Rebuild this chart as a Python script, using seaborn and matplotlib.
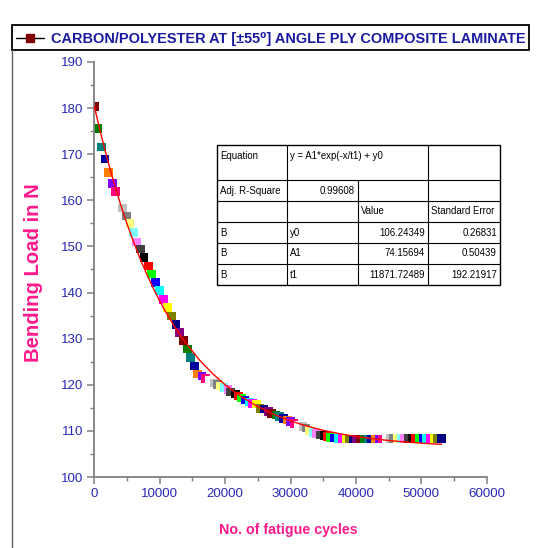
import numpy as np
import pandas as pd
import seaborn as sns
import matplotlib
matplotlib.use("Agg")
import matplotlib.pyplot as plt
from matplotlib.ticker import MultipleLocator
from matplotlib.patches import Rectangle

# ---------------- data ----------------
cycles = [0, 520, 1070, 1640, 2140, 2750, 3270, 3800, 4340, 4890,
          5460, 5960, 6480, 7090, 7600, 8260, 8780, 9390, 9940, 10550,
          11220, 11830, 12490, 13000, 13610, 14220, 14740, 15350, 15800, 16450,
          17000, 17600, 18300, 18800, 19330, 19830, 20440, 20860, 21560, 22080,
          22540, 23040, 23700, 24220, 24830, 25340, 25950, 26610, 27120, 27780,
          28290, 28900, 29510, 30030, 30540, 31200, 31900, 32400, 32880, 33490,
          34000, 34510, 35120, 35630, 36150, 36760, 37370, 37880, 38490, 39000,
          39600, 40120, 40730, 41290, 41850, 42410, 42970, 43530, 44090, 44650,
          45210, 45770, 46330, 46890, 47450, 48010, 48570, 49130, 49690, 50250,
          50810, 51370, 51940, 52500, 53060]
load = [180.4, 175.6, 171.6, 169.0, 166.0, 163.7, 161.9, 160.0, 158.3, 156.6,
        155.0, 153.0, 151.0, 149.4, 147.6, 145.8, 144.0, 142.2, 140.4, 138.5,
        136.8, 134.9, 133.1, 131.3, 129.6, 127.8, 125.9, 124.1, 122.3, 121.9,
        121.4, 121.0, 120.4, 120.1, 119.7, 119.4, 119.0, 118.4, 118.0, 117.6,
        117.1, 116.7, 116.3, 116.0, 115.8, 114.9, 114.7, 114.2, 113.8, 113.4,
        113.1, 112.7, 112.4, 112.0, 111.6, 111.3, 110.9, 110.6, 110.1, 109.7,
        109.4, 109.1, 109.0, 108.8, 108.6, 108.5, 108.4, 108.3, 108.2, 108.2,
        108.2, 108.2, 108.2, 108.2, 108.2, 108.2, 108.2, 108.2, 108.2, 108.3,
        108.3, 108.3, 108.3, 108.3, 108.3, 108.3, 108.3, 108.3, 108.3, 108.3,
        108.3, 108.3, 108.3, 108.3, 108.3]

fit_cycles = [0, 1000, 2000, 3000, 4000, 5000, 6000, 7000, 8000, 9000,
              10000, 11000, 12000, 13000, 14000, 16000, 18000, 20000, 22500, 25000,
              27500, 30000, 32500, 35000, 37500, 40000, 42500, 45000, 47500, 50000, 52500, 53100]
fit_load = [180.40, 174.41, 168.90, 163.84, 159.19, 154.91, 150.98, 147.37, 144.04, 140.99,
            138.18, 135.60, 133.23, 131.05, 129.05, 125.51, 122.53, 120.00, 117.39, 115.27,
            113.56, 112.17, 111.04, 110.13, 109.39, 108.79, 108.31, 107.92, 107.60, 107.34, 107.13, 107.08]

# Origin colour cycle (starting at "wine")
origin_colors = ["#800000", "#008000", "#008080", "#0000A0", "#FF8000", "#8000FF",
                 "#FF0080", "#FFFFFF", "#C0C0C0", "#808080", "#FFFF80", "#80FFFF",
                 "#FF80FF", "#404040", "#000000", "#FF0000", "#00FF00", "#0000FF",
                 "#00FFFF", "#FF00FF", "#FFFF00", "#808000", "#000080", "#800080"]

x_ticks = [0, 10000, 20000, 30000, 40000, 50000, 60000]
y_ticks = [100, 110, 120, 130, 140, 150, 160, 170, 180, 190]

title_text = "CARBON/POLYESTER AT [\u00b155\u2070] ANGLE PLY COMPOSITE LAMINATE"
x_label = "No. of fatigue cycles"
y_label = "Bending Load in N"

table_rows = [
    ["Equation", "y = A1*exp(-x/t1) + y0", "", ""],
    ["Adj. R-Square", "0.99608", "", ""],
    ["", "", "Value", "Standard Error"],
    ["B", "y0", "106.24349", "0.26831"],
    ["B", "A1", "74.15694", "0.50439"],
    ["B", "t1", "11871.72489", "192.21917"],
]

# ---------------- styling ----------------
sns.set_theme(style="white")
FAM = ["Liberation Sans", "DejaVu Sans"]
plt.rcParams["font.family"] = FAM

W, H = 540, 548
fig = plt.figure(figsize=(W / 100, H / 100), dpi=100)
fig.patch.set_facecolor("white")

x0p, x1p, y0p, y1p = 94.3, 486.7, 477.0, 62.0
ax = fig.add_axes([x0p / W, 1 - y0p / H, (x1p - x0p) / W, (y0p - y1p) / H])
ax.set_facecolor("white")

df = pd.DataFrame({"cycles": cycles, "load": load})
df["idx"] = np.arange(len(df))
pal = [origin_colors[i % len(origin_colors)] for i in range(len(df))]
sns.scatterplot(data=df, x="cycles", y="load", hue="idx", palette=pal,
                marker="s", s=38, linewidth=0, legend=False, ax=ax, zorder=2)
sns.lineplot(x=fit_cycles, y=fit_load, color="#FF0000", lw=1.0, ax=ax,
             zorder=3, estimator=None, sort=False)

ax.set_xlim(0, 60000)
ax.set_ylim(100, 190)
ax.set_xticks(x_ticks)
ax.set_yticks(y_ticks)
ax.xaxis.set_minor_locator(MultipleLocator(5000))
ax.yaxis.set_minor_locator(MultipleLocator(5))
ax.set_xlabel("")
ax.set_ylabel("")
for s in ["top", "right"]:
    ax.spines[s].set_visible(False)
for s in ["left", "bottom"]:
    ax.spines[s].set_color("#808080")
    ax.spines[s].set_linewidth(1.3)
ax.tick_params(which="major", direction="out", length=5, width=1.1, color="#808080",
               labelcolor="#2a2ab4", labelsize=9.6, left=True, bottom=True, pad=3)
ax.tick_params(which="minor", direction="out", length=3, width=1.0, color="#808080",
               left=True, bottom=True)

# ---------------- overlay (title box, axis titles, table) ----------------
ov = fig.add_axes([0, 0, 1, 1], zorder=10)
ov.set_xlim(0, W)
ov.set_ylim(H, 0)
ov.axis("off")
ov.patch.set_alpha(0)

# title / legend box
ov.add_patch(Rectangle((12, 25), 517, 25, fill=False, edgecolor="black", lw=1.3))
ov.plot([12, 12], [50, H], color="#606060", lw=1.0)
ov.plot([16, 44], [38, 38], color="black", lw=1.0)
ov.plot([30], [38], marker="s", ms=6, color="#800000", mec="#800000")
ov.text(51, 38.5, title_text, ha="left", va="center", fontsize=10.45,
        fontweight="bold", color="#1a1aa0")

# axis titles
ov.text(288, 530, x_label, ha="center", va="center", fontsize=10.3,
        fontweight="bold", color="#ff1a8c")
ov.text(34, 273, y_label, ha="center", va="center", fontsize=14.6, rotation=90,
        fontweight="bold", color="#ff1a8c")

# table
cols = [217, 287, 358, 428, 500]
rows = [145, 180, 201, 222, 243, 264, 285]
ov.add_patch(Rectangle((cols[0], rows[0]), cols[-1] - cols[0], rows[-1] - rows[0],
                       facecolor="white", edgecolor="black", lw=1.0, zorder=1))
for r in rows[1:-1]:
    ov.plot([cols[0], cols[-1]], [r, r], color="black", lw=0.8, zorder=2)
for c in cols[1:-1]:
    top = rows[1] if c == 358 else rows[0]
    ov.plot([c, c], [top, rows[-1]], color="black", lw=0.8, zorder=2)

tfs = 6.9
for ri, row in enumerate(table_rows):
    if ri == 0:
        yc = rows[0] + 11
    else:
        yc = (rows[ri] + rows[ri + 1]) / 2
    for ci, txt in enumerate(row):
        if not txt:
            continue
        right_align = (ri == 1 and ci == 1) or (ri >= 3 and ci >= 2)
        if right_align:
            ov.text(cols[ci + 1] - 3, yc, txt, ha="right", va="center", fontsize=tfs,
                    color="black", zorder=3)
        else:
            ov.text(cols[ci] + 3, yc, txt, ha="left", va="center", fontsize=tfs,
                    color="black", zorder=3)

fig.savefig("out.png", dpi=100, facecolor="white")
